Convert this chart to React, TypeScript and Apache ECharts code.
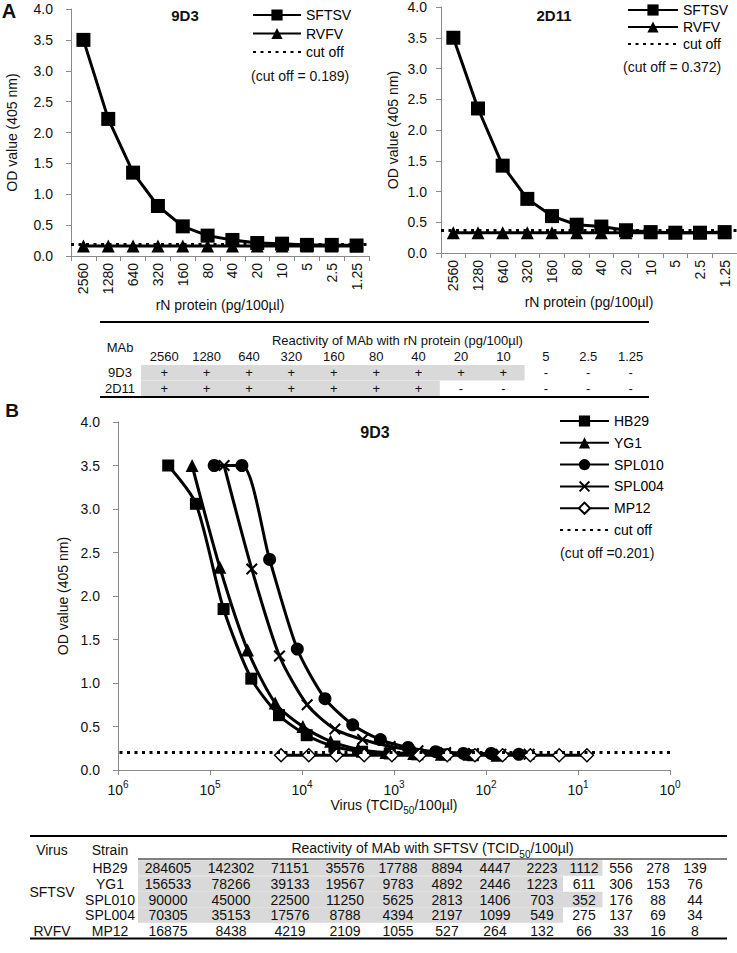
import React, { useEffect, useRef } from "react";
import * as echarts from "echarts";

const FONT = "'Liberation Sans', Arial, Helvetica, sans-serif";
const AXIS_GREY = "#8a8a8a";
const TEXT = "#111";
const SHADE = "#d9d9d9";

// ---------------- Panel A data ----------------
const proteinConc = ["2560", "1280", "640", "320", "160", "80", "40", "20", "10", "5", "2.5", "1.25"];
const sftsv9D3 = [3.5, 2.22, 1.35, 0.81, 0.48, 0.33, 0.26, 0.21, 0.2, 0.18, 0.18, 0.17];
const rvfv9D3 = [0.16, 0.16, 0.16, 0.16, 0.16, 0.16, 0.16, 0.16, 0.16, 0.16, 0.16, 0.16];
const cutoff9D3 = 0.189;
const sftsv2D11 = [3.5, 2.35, 1.42, 0.88, 0.6, 0.46, 0.43, 0.37, 0.34, 0.33, 0.33, 0.34];
const rvfv2D11 = [0.33, 0.33, 0.33, 0.33, 0.33, 0.33, 0.33, 0.33, 0.33, 0.33, 0.33, 0.33];
const cutoff2D11 = 0.372;

// Table A
const mabs = ["9D3", "2D11"];
const mabReactivity = [
  ["+", "+", "+", "+", "+", "+", "+", "+", "+", "-", "-", "-"],
  ["+", "+", "+", "+", "+", "+", "+", "-", "-", "-", "-", "-"],
];

// ---------------- Panel B data ----------------
const strains = ["HB29", "YG1", "SPL010", "SPL004", "MP12"];
const virusGroups = [
  { name: "SFTSV", first: 0, last: 3 },
  { name: "RVFV", first: 4, last: 4 },
];
const titerHB29 = [284605, 142302, 71151, 35576, 17788, 8894, 4447, 2223, 1112, 556, 278, 139];
const titerYG1 = [156533, 78266, 39133, 19567, 9783, 4892, 2446, 1223, 611, 306, 153, 76];
const titerSPL010 = [90000, 45000, 22500, 11250, 5625, 2813, 1406, 703, 352, 176, 88, 44];
const titerSPL004 = [70305, 35153, 17576, 8788, 4394, 2197, 1099, 549, 275, 137, 69, 34];
const titerMP12 = [16875, 8438, 4219, 2109, 1055, 527, 264, 132, 66, 33, 16, 8];

const odHB29 = [3.5, 3.06, 1.85, 1.05, 0.63, 0.4, 0.27, 0.21, 0.19, 0.18, 0.18, 0.17];
const odYG1 = [3.5, 2.33, 1.38, 0.77, 0.5, 0.33, 0.24, 0.2, 0.19, 0.18, 0.18, 0.17];
const odSPL010 = [3.5, 3.5, 2.42, 1.39, 0.82, 0.52, 0.35, 0.26, 0.21, 0.19, 0.19, 0.18];
const odSPL004 = [3.5, 2.31, 1.31, 0.75, 0.47, 0.35, 0.27, 0.22, 0.2, 0.19, 0.18, 0.18];
const odMP12 = [0.17, 0.17, 0.17, 0.17, 0.17, 0.17, 0.17, 0.17, 0.17, 0.17, 0.17, 0.17];
const cutoffB = 0.201;
// number of reactive (shaded) dilutions per strain in table B
const reactiveCount = [9, 8, 9, 8, 0];

const titers = [titerHB29, titerYG1, titerSPL010, titerSPL004, titerMP12];
const ods = [odHB29, odYG1, odSPL010, odSPL004, odMP12];

const X_PATH =
  "path://M0,1.2L1.2,0L5,3.8L8.8,0L10,1.2L6.2,5L10,8.8L8.8,10L5,6.2L1.2,10L0,8.8L3.8,5Z";
const strainSymbols = ["rect", "triangle", "circle", X_PATH, "diamond"];
const strainSymbolSizes = [12, 13, 13, 12, 13];

const cutLine = { color: "#000", width: 3, type: [3, 4.5] as any, cap: "butt" };

function buildOption() {
  const textStyle = { fontSize: 14, color: TEXT, fontFamily: FONT };

  const catAxis = (gridIndex: number) => ({
    type: "category",
    gridIndex,
    data: proteinConc,
    boundaryGap: true,
    axisLine: { lineStyle: { color: AXIS_GREY, width: 1 } },
    axisTick: { show: true, length: 5, lineStyle: { color: AXIS_GREY } },
    axisLabel: { ...textStyle, rotate: 90, margin: 7, interval: 0 },
    splitLine: { show: false },
    name: "rN protein (pg/100µl)",
    nameLocation: "middle",
    nameGap: 39,
    nameTextStyle: textStyle,
  });

  const odAxis = (gridIndex: number, nameGap: number, margin: number) => ({
    type: "value",
    gridIndex,
    min: 0,
    max: 4,
    interval: 0.5,
    axisLine: { show: true, lineStyle: { color: AXIS_GREY, width: 1 } },
    axisTick: { show: true, length: 5, lineStyle: { color: AXIS_GREY } },
    axisLabel: { ...textStyle, margin, formatter: (v: number) => v.toFixed(1) },
    splitLine: { show: false },
    name: "OD value (405 nm)",
    nameLocation: "middle",
    nameGap,
    nameTextStyle: textStyle,
  });

  const panelASeries = (idx: number, sftsv: number[], rvfv: number[], cutoff: number) => [
    {
      name: "SFTSV",
      type: "line",
      xAxisIndex: idx,
      yAxisIndex: idx,
      data: sftsv,
      symbol: "rect",
      symbolSize: 14,
      lineStyle: { color: "#000", width: 3 },
      itemStyle: { color: "#000" },
    },
    {
      name: "RVFV",
      type: "line",
      xAxisIndex: idx,
      yAxisIndex: idx,
      data: rvfv,
      symbol: "triangle",
      symbolSize: 13,
      lineStyle: { color: "#000", width: 3 },
      itemStyle: { color: "#000" },
    },
    {
      name: "cut off",
      type: "line",
      xAxisIndex: idx,
      yAxisIndex: idx,
      data: [],
      symbol: "none",
      lineStyle: cutLine,
      itemStyle: { color: "rgba(0,0,0,0)" },
      markLine: {
        silent: true,
        symbol: "none",
        label: { show: false },
        lineStyle: cutLine,
        data: [{ yAxis: cutoff }],
      },
    },
  ];

  const panelBSeries: any[] = strains.map((s, i) => ({
    name: s,
    type: "line",
    xAxisIndex: 2,
    yAxisIndex: 2,
    data: titers[i].map((t, j) => [t, ods[i][j]]),
    symbol: strainSymbols[i],
    symbolSize: strainSymbolSizes[i],
    smooth: 0.25,
    lineStyle: { color: "#000", width: 3 },
    itemStyle:
      i === 4
        ? { color: "#fff", borderColor: "#000", borderWidth: 1.5 }
        : { color: "#000" },
  }));
  panelBSeries.push({
    name: "cut off",
    type: "line",
    xAxisIndex: 2,
    yAxisIndex: 2,
    data: [],
    symbol: "none",
    lineStyle: cutLine,
    itemStyle: { color: "rgba(0,0,0,0)" },
    markLine: {
      silent: true,
      symbol: "none",
      label: { show: false },
      lineStyle: cutLine,
      data: [{ yAxis: cutoffB }],
    },
  });

  // ---------------- graphics: labels + tables ----------------
  const rects: any[] = [];
  const lines: any[] = [];
  const texts: any[] = [];
  const T = (x: number, y: number, text: string, extra: any = {}) =>
    texts.push({
      type: "text",
      x,
      y,
      silent: true,
      style: {
        text,
        fill: TEXT,
        fontSize: 14,
        fontFamily: FONT,
        align: "center",
        verticalAlign: "middle",
        textAlign: "center",
        textVerticalAlign: "middle",
        ...extra,
      },
    });
  const L = (x1: number, y1: number, x2: number, y2: number, w = 1) =>
    lines.push({
      type: "line",
      silent: true,
      shape: { x1, y1, x2, y2 },
      style: { stroke: "#000", lineWidth: w },
    });
  const R = (x: number, y: number, width: number, height: number) =>
    rects.push({
      type: "rect",
      silent: true,
      shape: { x, y, width, height },
      style: { fill: SHADE },
    });

  // panel letters & titles
  T(9, 11, "A", { fontWeight: "bold", fontSize: 20 });
  T(12, 410, "B", { fontWeight: "bold", fontSize: 19 });
  T(185, 15, "9D3", { fontWeight: "bold", fontSize: 15 });
  T(554, 15, "2D11", { fontWeight: "bold", fontSize: 15 });
  T(375, 432, "9D3", { fontWeight: "bold", fontSize: 16 });
  T(251, 76, `(cut off = ${cutoff9D3})`, { align: "left", textAlign: "left" });
  T(623, 67, `(cut off = ${cutoff2D11})`, { align: "left", textAlign: "left" });
  T(560, 553, `(cut off =${cutoffB})`, { align: "left", textAlign: "left" });

  // ----- Table A -----
  const aLeft = 100,
    aRight = 649,
    aColStart = 143,
    aColW = 42.4;
  const aFont = 13;
  const aCenter = (i: number) => aColStart + aColW * (i + 0.5);
  const aRowY = [372.5, 388];
  const aRowTop = [365, 380.5];
  const aRowBottom = [380.5, 396];
  L(aLeft, 322, aRight, 322, 2);
  L(aLeft, 397, aRight, 397, 2);
  T(120, 347, "MAb", { fontSize: aFont });
  T(aColStart + (aColW * proteinConc.length) / 2, 340, "Reactivity of MAb with rN protein (pg/100µl)", {
    fontSize: aFont,
  });
  proteinConc.forEach((c, i) => T(aCenter(i), 356, c, { fontSize: aFont }));
  mabs.forEach((m, r) => {
    const n = mabReactivity[r].filter((v) => v === "+").length;
    if (n > 0) R(aColStart - 2, aRowTop[r], aColW * n + 2, aRowBottom[r] - aRowTop[r]);
    T(120, aRowY[r], m, { fontSize: aFont });
    mabReactivity[r].forEach((v, i) => T(aCenter(i), aRowY[r], v, { fontSize: aFont }));
  });

  // ----- Table B -----
  const bLeft = 30,
    bRight = 727;
  const bCols = [168, 231, 290, 345, 398, 447, 495, 542, 584, 621, 658, 695];
  const bShadeStart = 138;
  const bBoundary = (n: number) =>
    n >= bCols.length ? bRight : (bCols[n - 1] + bCols[n]) / 2;
  const bRowY = [868, 884, 899.5, 915, 931];
  const bRowH = 15.6;
  L(bLeft, 836, bRight, 836, 2);
  L(bLeft, 938.5, bRight, 938.5, 2);
  L(bShadeStart, 859, bRight, 859, 1);
  T(52, 850, "Virus");
  T(110, 850, "Strain");
  T((bShadeStart + bRight) / 2, 850, "{n|Reactivity of MAb with SFTSV (TCID}{s|50}{n|/100µl)}", {
    rich: {
      n: { fontSize: 14, fontFamily: FONT, fill: TEXT, lineHeight: 18, verticalAlign: "top" },
      s: { fontSize: 10, fontFamily: FONT, fill: TEXT, lineHeight: 10, verticalAlign: "bottom" },
    },
  });
  strains.forEach((s, r) => {
    const n = reactiveCount[r];
    if (n > 0) R(bShadeStart, bRowY[r] - bRowH / 2, bBoundary(n) - bShadeStart, bRowH);
    T(110, bRowY[r], s);
    titers[r].forEach((v, i) => T(bCols[i], bRowY[r], String(v)));
  });
  virusGroups.forEach((g) => T(52, (bRowY[g.first] + bRowY[g.last]) / 2, g.name));

  const legendText = { fontSize: 14, color: "#000", fontFamily: FONT, lineHeight: 14 };

  return {
    animation: false,
    backgroundColor: "#fff",
    textStyle: { fontFamily: FONT },
    grid: [
      { left: 71, top: 9, width: 298, height: 247 },
      { left: 441, top: 7, width: 296, height: 246 },
      { left: 118, top: 422, width: 552, height: 348 },
    ],
    xAxis: [
      catAxis(0),
      catAxis(1),
      {
        type: "log",
        gridIndex: 2,
        logBase: 10,
        min: 1,
        max: 1000000,
        inverse: true,
        axisLine: { lineStyle: { color: AXIS_GREY, width: 1 } },
        axisTick: { show: true, length: 5, lineStyle: { color: AXIS_GREY } },
        minorTick: { show: false },
        splitLine: { show: false },
        axisLabel: {
          margin: 9,
          formatter: (v: number) => `{b|10}{s|${Math.round(Math.log10(v))}}`,
          rich: {
            b: { fontSize: 14, fontFamily: FONT, color: TEXT, lineHeight: 18, verticalAlign: "bottom" },
            s: { fontSize: 10, fontFamily: FONT, color: TEXT, lineHeight: 10, verticalAlign: "top" },
          },
        },
        name: "{n|Virus (TCID}{s|50}{n|/100µl)}",
        nameLocation: "middle",
        nameGap: 27,
        nameTextStyle: {
          rich: {
            n: { fontSize: 14, fontFamily: FONT, color: TEXT, lineHeight: 18, verticalAlign: "top" },
            s: { fontSize: 10, fontFamily: FONT, color: TEXT, lineHeight: 10, verticalAlign: "bottom" },
          },
        },
      },
    ],
    yAxis: [odAxis(0, 52, 18), odAxis(1, 41, 14), odAxis(2, 44, 18)],
    legend: [
      {
        data: ["SFTSV", "RVFV", "cut off"],
        left: 252,
        top: 8,
        orient: "vertical",
        itemWidth: 48,
        itemHeight: 14,
        itemGap: 4.5,
        padding: 0,
        selectedMode: false,
        textStyle: legendText,
      },
      {
        data: ["SFTSV", "RVFV", "cut off"],
        left: 627,
        top: 3,
        orient: "vertical",
        itemWidth: 50,
        itemHeight: 14,
        itemGap: 3,
        padding: 0,
        selectedMode: false,
        textStyle: legendText,
      },
      {
        data: [...strains, "cut off"],
        left: 559,
        top: 414,
        orient: "vertical",
        itemWidth: 49,
        itemHeight: 14,
        itemGap: 7.8,
        padding: 0,
        selectedMode: false,
        textStyle: legendText,
      },
    ],
    series: [
      ...panelASeries(0, sftsv9D3, rvfv9D3, cutoff9D3),
      ...panelASeries(1, sftsv2D11, rvfv2D11, cutoff2D11),
      ...panelBSeries,
    ],
    graphic: { elements: [...rects, ...lines, ...texts] },
  };
}

export default function App() {
  const ref = useRef<HTMLDivElement>(null);
  useEffect(() => {
    if (!ref.current) return;
    const chart = echarts.init(ref.current, null, { renderer: "svg" });
    chart.setOption(buildOption() as any);
    return () => chart.dispose();
  }, []);
  return (
    <div
      ref={ref}
      style={{ position: "fixed", left: 0, top: 0, width: 737, height: 953, background: "#fff" }}
    />
  );
}
